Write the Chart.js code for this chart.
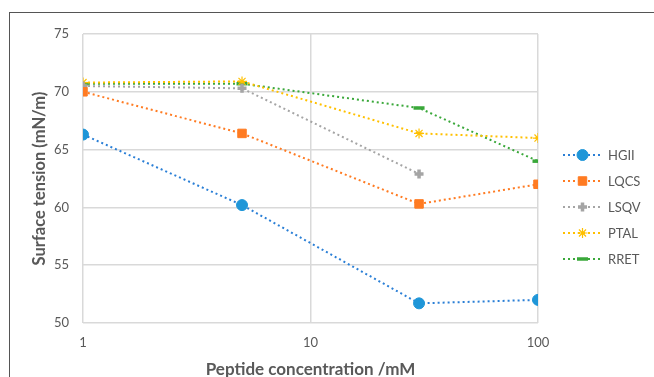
<!DOCTYPE html>
<html>
<head>
<meta charset="utf-8">
<script src="https://cdn.jsdelivr.net/npm/chart.js@4/dist/chart.umd.min.js"></script>
<style>
  html, body { margin: 0; padding: 0; background: #fff; }
  #wrap { position: relative; width: 654px; height: 377px; overflow: hidden; }
  #frame { position: absolute; left: 9px; top: 12px; right: -5px; bottom: -5px;
           border-left: 1.5px solid #555; border-top: 1.5px solid #555; pointer-events: none; }
</style>
</head>
<body>
<div id="wrap">
  <canvas id="chart" width="654" height="377"></canvas>
  <div id="frame"></div>
</div>
<script>
const concentrations = [1, 5, 30, 100];
const seriesNames = ["HGII", "LQCS", "LSQV", "PTAL", "RRET"];
const hgii = [66.3, 60.2, 51.7, 52.0];
const lqcs = [70.0, 66.4, 60.3, 62.0];
const lsqv = [70.5, 70.3, 62.9, null];
const ptal = [70.8, 70.9, 66.4, 66.0];
const rret = [70.7, 70.7, 68.6, 64.0];
const xTicks = [1, 10, 100];

const colors = ["#1f96d8", "#ff7b22", "#a5a5a5", "#ffc000", "#3aa83a"];
const lineColors = ["#2a7fd6", "#ff7b22", "#a5a5a5", "#ffc000", "#3aa83a"];
const styles = ["circle", "rect", "cross", "star", "line"];
const radii = [5.5, 6, 4.5, 5, 5.5];
const values = [hgii, lqcs, lsqv, ptal, rret];

const grey = "#595959";
const font = "Lato, 'Open Sans', sans-serif";

const datasets = seriesNames.map((name, i) => ({
  label: name,
  data: concentrations.map((c, j) => ({ x: c, y: values[i][j] })),
  borderColor: lineColors[i],
  backgroundColor: colors[i],
  pointBorderColor: colors[i],
  pointBackgroundColor: colors[i],
  pointStyle: styles[i],
  pointRadius: radii[i],
  pointBorderWidth: i === 4 ? 3.5 : (i === 2 ? 3.5 : (i === 3 ? 1.2 : 1)),
  borderWidth: 2,
  borderDash: [2, 3],
  tension: 0,
  spanGaps: false,
}));

// legend drawn as line + marker, like the original
const sideLegend = {
  id: "sideLegend",
  afterDraw(chart) {
    const ctx = chart.ctx;
    const x0 = 563, x1 = 602, top = 155, step = 26;
    chart.data.datasets.forEach((ds, i) => {
      const y = top + i * step;
      ctx.save();
      ctx.strokeStyle = ds.borderColor;
      ctx.lineWidth = 2;
      ctx.setLineDash([2, 3]);
      ctx.beginPath();
      ctx.moveTo(x0, y);
      ctx.lineTo(x1, y);
      ctx.stroke();
      ctx.setLineDash([]);
      ctx.fillStyle = ds.pointBackgroundColor;
      ctx.strokeStyle = ds.pointBorderColor;
      ctx.lineWidth = ds.pointBorderWidth;
      Chart.helpers.drawPoint(ctx, { pointStyle: ds.pointStyle, radius: ds.pointRadius, rotation: 0, borderWidth: ds.pointBorderWidth }, (x0 + x1) / 2, y);
      ctx.fillStyle = grey;
      ctx.font = "13px " + font;
      ctx.textBaseline = "middle";
      ctx.fillText(ds.label, x1 + 6, y + 1);
      ctx.restore();
    });
  },
};

new Chart(document.getElementById("chart"), {
  type: "line",
  data: { datasets },
  options: {
    responsive: false,
    animation: false,
    layout: { padding: { left: 30, top: 34, right: 116, bottom: 0 } },
    plugins: { legend: { display: false }, tooltip: { enabled: false } },
    scales: {
      x: {
        type: "logarithmic",
        min: 1,
        max: 100,
        afterBuildTicks: (scale) => { scale.ticks = xTicks.map(v => ({ value: v })); },
        afterFit: (scale) => { scale.height = 54; },
        ticks: { color: grey, font: { family: font, size: 13 }, padding: 12, maxRotation: 0,
                 callback: (v) => String(v) },
        grid: { color: "#d9d9d9", lineWidth: 1.5, drawTicks: false },
        border: { display: false },
        title: { display: true, text: "Peptide concentration /mM", color: grey,
                 font: { family: font, size: 17, weight: "bold" }, padding: { top: 0, bottom: -3 } },
      },
      y: {
        min: 50,
        max: 75,
        afterFit: (scale) => { scale.width = 53; },
        ticks: { stepSize: 5, color: grey, font: { family: font, size: 13 }, padding: 14 },
        grid: { color: "#d9d9d9", lineWidth: 1.5, drawTicks: false },
        border: { display: false },
        title: { display: true, text: "Surface tension (mN/m)", color: grey,
                 font: { family: font, size: 16.5, weight: "bold" }, padding: { top: 0, bottom: 0 } },
      },
    },
  },
  plugins: [sideLegend],
});
</script>
</body>
</html>
